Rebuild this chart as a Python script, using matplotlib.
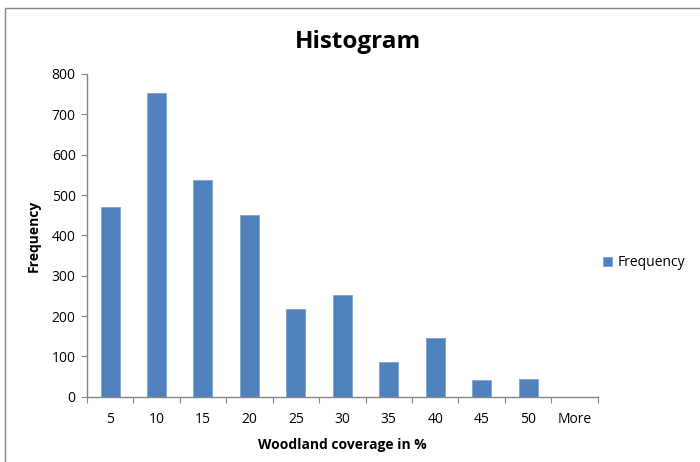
import matplotlib
matplotlib.use("Agg")
import matplotlib.pyplot as plt
from matplotlib.patches import Rectangle
import numpy as np

categories = ["5", "10", "15", "20", "25", "30", "35", "40", "45", "50", "More"]
frequency = [470, 752, 536, 451, 217, 253, 87, 145, 41, 44, 0]
y_ticks = [0, 100, 200, 300, 400, 500, 600, 700, 800]

plt.rcParams['font.family'] = ['Open Sans', 'DejaVu Sans']

fig = plt.figure(figsize=(7, 4.62), dpi=100)
ax = fig.add_axes([0.124, 0.141, 0.730, 0.699])

x = np.arange(len(categories))
ax.bar(x, frequency, width=0.41, color="#4F81BD", edgecolor="#7FA3D1", linewidth=0.6,
       label="Frequency")

ax.set_xlim(-0.5, len(categories) - 0.5)
ax.set_ylim(0, 800)
ax.set_yticks(y_ticks)
ax.set_yticklabels([str(v) for v in y_ticks], fontsize=10)

# major ticks at category boundaries, labels at centers
ax.set_xticks(np.arange(-0.5, len(categories) + 0.5, 1))
ax.set_xticklabels([])
ax.set_xticks(x, minor=True)
ax.set_xticklabels(categories, minor=True, fontsize=10)
ax.tick_params(axis='x', which='minor', length=0, pad=11)
ax.tick_params(axis='x', which='major', length=4, color="#868686", direction='out')
ax.tick_params(axis='y', length=4, color="#868686", direction='out', pad=4)

for s in ["top", "right"]:
    ax.spines[s].set_visible(False)
for s in ["left", "bottom"]:
    ax.spines[s].set_color("#868686")
    ax.spines[s].set_linewidth(1.0)

ax.set_xlabel("Woodland coverage in %", fontsize=10, fontweight="bold", labelpad=8)
ax.set_ylabel("Frequency", fontsize=10, fontweight="bold", labelpad=8)

fig.text(0.511, 0.910, "Histogram", ha="center", va="center", fontsize=17.5, fontweight="bold")

ax.legend(loc="center left", bbox_to_anchor=(0.985, 0.415), frameon=False, fontsize=10,
          handlelength=0.7, handleheight=0.7, handletextpad=0.4)

fig.patches.append(Rectangle((0.007, -0.01), 1.0, 0.993, transform=fig.transFigure,
                             fill=False, edgecolor="#868686", linewidth=1.0))

fig.savefig("out.png", dpi=100)
